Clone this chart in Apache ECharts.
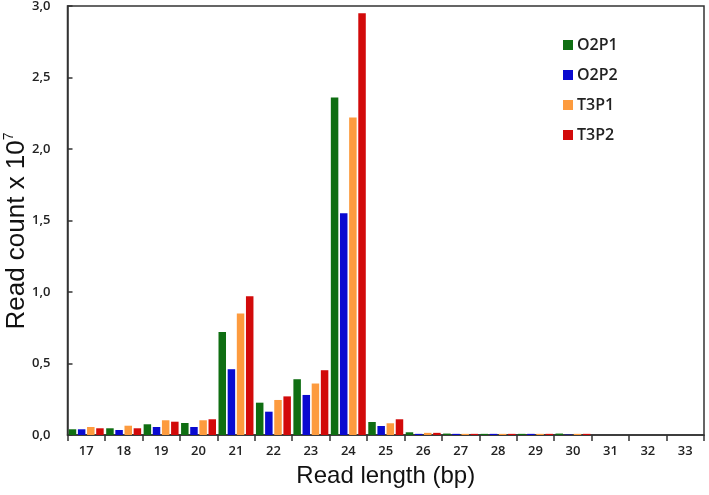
<!DOCTYPE html>
<html>
<head>
<meta charset="utf-8">
<script src="https://cdn.jsdelivr.net/npm/echarts@6/dist/echarts.min.js"></script>
<style>html,body{margin:0;padding:0;background:#fff}#c{width:709px;height:495px}</style>
</head>
<body>
<div id="c"></div>
<script>
var categories = ['17','18','19','20','21','22','23','24','25','26','27','28','29','30','31','32','33'];
var seriesNames = ['O2P1','O2P2','T3P1','T3P2'];
var o2p1 = [0.04,0.047,0.075,0.084,0.72,0.226,0.39,2.36,0.091,0.019,0.01,0.008,0.008,0.01,0,0,0];
var o2p2 = [0.04,0.035,0.056,0.056,0.46,0.163,0.28,1.55,0.063,0.008,0.008,0.008,0.008,0.003,0,0,0];
var t3p1 = [0.056,0.065,0.103,0.103,0.85,0.245,0.36,2.22,0.082,0.015,0.008,0.008,0.008,0.008,0,0,0];
var t3p2 = [0.047,0.047,0.093,0.11,0.97,0.27,0.453,2.95,0.11,0.015,0.008,0.008,0.008,0.008,0,0,0];
var colors = ['#0f6e12','#0a0ad0','#fd9b3e','#d20a0a'];
var yTitle = 'Read count x 10';
var yTitleExp = '7';

var chart = echarts.init(document.getElementById('c'));
var values = [o2p1,o2p2,t3p1,t3p2];
var series = seriesNames.map(function(n,i){
  return {name:n,type:'bar',data:values[i],barWidth:7.5,barGap:'22%',
    itemStyle:{color:colors[i]}};
});
chart.setOption({
  animation:false,
  color:colors,
  grid:{left:67.5,right:5,top:6,bottom:60,containLabel:false,outerBoundsMode:'none',
    show:true,borderColor:'#333',borderWidth:1.5,backgroundColor:'transparent'},
  legend:{orient:'vertical',left:558,top:32,itemWidth:10,itemHeight:10,itemGap:14,icon:'rect',
    textStyle:{fontFamily:'Open Sans',fontSize:16,color:'#222',fontWeight:600,padding:[0,0,0,-1]},data:seriesNames},
  graphic:[{type:'text',x:17,y:231,rotation:Math.PI/2,
    style:{text:'{a|'+yTitle+'}{s|'+yTitleExp+'}',align:'center',verticalAlign:'middle',
      rich:{
        a:{fontFamily:'Liberation Sans',fontSize:26,fill:'#111',lineHeight:30},
        s:{fontFamily:'Liberation Sans',fontSize:14,fill:'#111',verticalAlign:'top',lineHeight:30}}}}],
  xAxis:{type:'category',data:categories,
    axisLine:{lineStyle:{color:'#333',width:1.5}},
    axisTick:{show:true,length:6,lineStyle:{color:'#333',width:1.5}},
    axisLabel:{fontFamily:'Open Sans',fontSize:13,color:'#222',fontWeight:600,margin:10},
    name:'Read length (bp)',nameLocation:'middle',nameGap:29,
    nameTextStyle:{fontFamily:'Liberation Sans',fontSize:24,color:'#111'}},
  yAxis:{type:'value',min:0,max:3,interval:0.5,
    axisLine:{show:true,lineStyle:{color:'#333',width:1.5}},
    axisTick:{show:true,inside:true,length:5,lineStyle:{color:'#333',width:1.5}},
    splitLine:{show:false},
    axisLabel:{fontFamily:'Open Sans',fontSize:13,color:'#222',fontWeight:600,margin:17,
      formatter:function(v){return v.toFixed(1).replace('.',',');}}},
  series:series
});
</script>
</body>
</html>
